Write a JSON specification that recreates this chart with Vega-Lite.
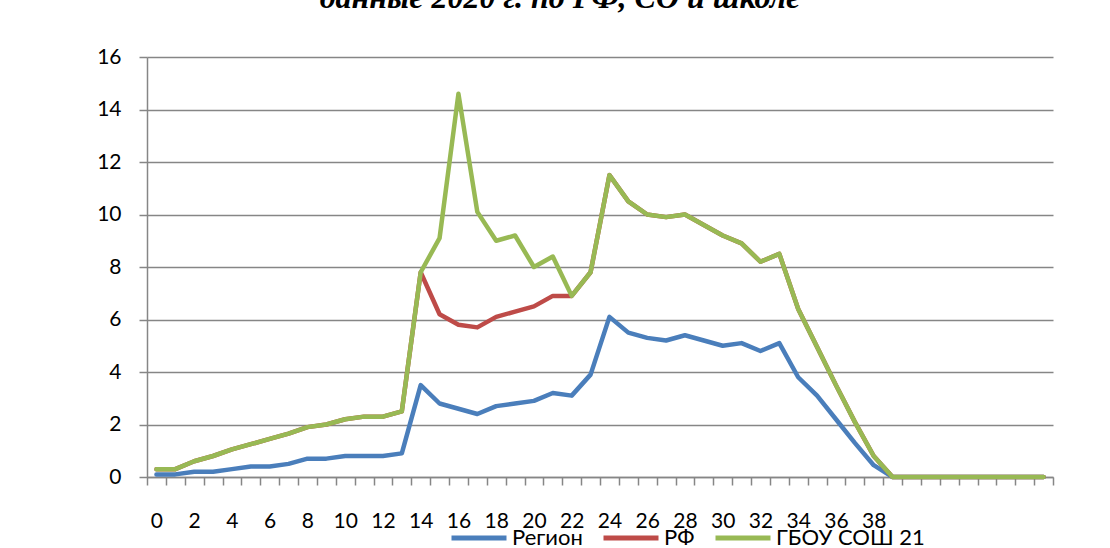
{
  "$schema": "https://vega.github.io/schema/vega-lite/v6.json",
  "width": 906,
  "height": 420,
  "autosize": {"type": "none"},
  "padding": {"left": 147, "top": 57, "right": 57, "bottom": 71},
  "background": "white",
  "title": {
    "text": "данные 2020 г. по РФ, СО и школе",
    "font": "Liberation Serif",
    "fontSize": 32,
    "fontWeight": "bold",
    "fontStyle": "italic",
    "color": "black",
    "anchor": "middle",
    "offset": 31,
    "dx": -40
  },
  "datasets": {
    "rows": [
      {"x": 0, "v": 0.1, "s": "Регион"}, {"x": 1, "v": 0.1, "s": "Регион"}, {"x": 2, "v": 0.2, "s": "Регион"}, {"x": 3, "v": 0.2, "s": "Регион"},
      {"x": 4, "v": 0.3, "s": "Регион"}, {"x": 5, "v": 0.4, "s": "Регион"}, {"x": 6, "v": 0.4, "s": "Регион"}, {"x": 7, "v": 0.5, "s": "Регион"},
      {"x": 8, "v": 0.7, "s": "Регион"}, {"x": 9, "v": 0.7, "s": "Регион"}, {"x": 10, "v": 0.8, "s": "Регион"}, {"x": 11, "v": 0.8, "s": "Регион"},
      {"x": 12, "v": 0.8, "s": "Регион"}, {"x": 13, "v": 0.9, "s": "Регион"}, {"x": 14, "v": 3.5, "s": "Регион"}, {"x": 15, "v": 2.8, "s": "Регион"},
      {"x": 16, "v": 2.6, "s": "Регион"}, {"x": 17, "v": 2.4, "s": "Регион"}, {"x": 18, "v": 2.7, "s": "Регион"}, {"x": 19, "v": 2.8, "s": "Регион"},
      {"x": 20, "v": 2.9, "s": "Регион"}, {"x": 21, "v": 3.2, "s": "Регион"}, {"x": 22, "v": 3.1, "s": "Регион"}, {"x": 23, "v": 3.9, "s": "Регион"},
      {"x": 24, "v": 6.1, "s": "Регион"}, {"x": 25, "v": 5.5, "s": "Регион"}, {"x": 26, "v": 5.3, "s": "Регион"}, {"x": 27, "v": 5.2, "s": "Регион"},
      {"x": 28, "v": 5.4, "s": "Регион"}, {"x": 29, "v": 5.2, "s": "Регион"}, {"x": 30, "v": 5.0, "s": "Регион"}, {"x": 31, "v": 5.1, "s": "Регион"},
      {"x": 32, "v": 4.8, "s": "Регион"}, {"x": 33, "v": 5.1, "s": "Регион"}, {"x": 34, "v": 3.8, "s": "Регион"}, {"x": 35, "v": 3.1, "s": "Регион"},
      {"x": 36, "v": 2.2, "s": "Регион"}, {"x": 37, "v": 1.3, "s": "Регион"}, {"x": 38, "v": 0.45, "s": "Регион"}, {"x": 39, "v": 0, "s": "Регион"},
      {"x": 40, "v": 0, "s": "Регион"}, {"x": 41, "v": 0, "s": "Регион"}, {"x": 42, "v": 0, "s": "Регион"}, {"x": 43, "v": 0, "s": "Регион"},
      {"x": 44, "v": 0, "s": "Регион"}, {"x": 45, "v": 0, "s": "Регион"}, {"x": 46, "v": 0, "s": "Регион"}, {"x": 47, "v": 0, "s": "Регион"},

      {"x": 0, "v": 0.3, "s": "РФ"}, {"x": 1, "v": 0.3, "s": "РФ"}, {"x": 2, "v": 0.6, "s": "РФ"}, {"x": 3, "v": 0.8, "s": "РФ"},
      {"x": 4, "v": 1.05, "s": "РФ"}, {"x": 5, "v": 1.25, "s": "РФ"}, {"x": 6, "v": 1.45, "s": "РФ"}, {"x": 7, "v": 1.65, "s": "РФ"},
      {"x": 8, "v": 1.9, "s": "РФ"}, {"x": 9, "v": 2.0, "s": "РФ"}, {"x": 10, "v": 2.2, "s": "РФ"}, {"x": 11, "v": 2.3, "s": "РФ"},
      {"x": 12, "v": 2.3, "s": "РФ"}, {"x": 13, "v": 2.5, "s": "РФ"}, {"x": 14, "v": 7.8, "s": "РФ"}, {"x": 15, "v": 6.2, "s": "РФ"},
      {"x": 16, "v": 5.8, "s": "РФ"}, {"x": 17, "v": 5.7, "s": "РФ"}, {"x": 18, "v": 6.1, "s": "РФ"}, {"x": 19, "v": 6.3, "s": "РФ"},
      {"x": 20, "v": 6.5, "s": "РФ"}, {"x": 21, "v": 6.9, "s": "РФ"}, {"x": 22, "v": 6.9, "s": "РФ"}, {"x": 23, "v": 7.8, "s": "РФ"},
      {"x": 24, "v": 11.5, "s": "РФ"}, {"x": 25, "v": 10.5, "s": "РФ"}, {"x": 26, "v": 10.0, "s": "РФ"}, {"x": 27, "v": 9.9, "s": "РФ"},
      {"x": 28, "v": 10.0, "s": "РФ"}, {"x": 29, "v": 9.6, "s": "РФ"}, {"x": 30, "v": 9.2, "s": "РФ"}, {"x": 31, "v": 8.9, "s": "РФ"},
      {"x": 32, "v": 8.2, "s": "РФ"}, {"x": 33, "v": 8.5, "s": "РФ"}, {"x": 34, "v": 6.4, "s": "РФ"}, {"x": 35, "v": 4.95, "s": "РФ"},
      {"x": 36, "v": 3.5, "s": "РФ"}, {"x": 37, "v": 2.1, "s": "РФ"}, {"x": 38, "v": 0.8, "s": "РФ"}, {"x": 39, "v": 0, "s": "РФ"},
      {"x": 40, "v": 0, "s": "РФ"}, {"x": 41, "v": 0, "s": "РФ"}, {"x": 42, "v": 0, "s": "РФ"}, {"x": 43, "v": 0, "s": "РФ"},
      {"x": 44, "v": 0, "s": "РФ"}, {"x": 45, "v": 0, "s": "РФ"}, {"x": 46, "v": 0, "s": "РФ"}, {"x": 47, "v": 0, "s": "РФ"},

      {"x": 0, "v": 0.3, "s": "ГБОУ СОШ 21"}, {"x": 1, "v": 0.3, "s": "ГБОУ СОШ 21"}, {"x": 2, "v": 0.6, "s": "ГБОУ СОШ 21"}, {"x": 3, "v": 0.8, "s": "ГБОУ СОШ 21"},
      {"x": 4, "v": 1.05, "s": "ГБОУ СОШ 21"}, {"x": 5, "v": 1.25, "s": "ГБОУ СОШ 21"}, {"x": 6, "v": 1.45, "s": "ГБОУ СОШ 21"}, {"x": 7, "v": 1.65, "s": "ГБОУ СОШ 21"},
      {"x": 8, "v": 1.9, "s": "ГБОУ СОШ 21"}, {"x": 9, "v": 2.0, "s": "ГБОУ СОШ 21"}, {"x": 10, "v": 2.2, "s": "ГБОУ СОШ 21"}, {"x": 11, "v": 2.3, "s": "ГБОУ СОШ 21"},
      {"x": 12, "v": 2.3, "s": "ГБОУ СОШ 21"}, {"x": 13, "v": 2.5, "s": "ГБОУ СОШ 21"}, {"x": 14, "v": 7.8, "s": "ГБОУ СОШ 21"}, {"x": 15, "v": 9.1, "s": "ГБОУ СОШ 21"},
      {"x": 16, "v": 14.6, "s": "ГБОУ СОШ 21"}, {"x": 17, "v": 10.1, "s": "ГБОУ СОШ 21"}, {"x": 18, "v": 9.0, "s": "ГБОУ СОШ 21"}, {"x": 19, "v": 9.2, "s": "ГБОУ СОШ 21"},
      {"x": 20, "v": 8.0, "s": "ГБОУ СОШ 21"}, {"x": 21, "v": 8.4, "s": "ГБОУ СОШ 21"}, {"x": 22, "v": 6.9, "s": "ГБОУ СОШ 21"}, {"x": 23, "v": 7.8, "s": "ГБОУ СОШ 21"},
      {"x": 24, "v": 11.5, "s": "ГБОУ СОШ 21"}, {"x": 25, "v": 10.5, "s": "ГБОУ СОШ 21"}, {"x": 26, "v": 10.0, "s": "ГБОУ СОШ 21"}, {"x": 27, "v": 9.9, "s": "ГБОУ СОШ 21"},
      {"x": 28, "v": 10.0, "s": "ГБОУ СОШ 21"}, {"x": 29, "v": 9.6, "s": "ГБОУ СОШ 21"}, {"x": 30, "v": 9.2, "s": "ГБОУ СОШ 21"}, {"x": 31, "v": 8.9, "s": "ГБОУ СОШ 21"},
      {"x": 32, "v": 8.2, "s": "ГБОУ СОШ 21"}, {"x": 33, "v": 8.5, "s": "ГБОУ СОШ 21"}, {"x": 34, "v": 6.4, "s": "ГБОУ СОШ 21"}, {"x": 35, "v": 4.95, "s": "ГБОУ СОШ 21"},
      {"x": 36, "v": 3.5, "s": "ГБОУ СОШ 21"}, {"x": 37, "v": 2.1, "s": "ГБОУ СОШ 21"}, {"x": 38, "v": 0.8, "s": "ГБОУ СОШ 21"}, {"x": 39, "v": 0, "s": "ГБОУ СОШ 21"},
      {"x": 40, "v": 0, "s": "ГБОУ СОШ 21"}, {"x": 41, "v": 0, "s": "ГБОУ СОШ 21"}, {"x": 42, "v": 0, "s": "ГБОУ СОШ 21"}, {"x": 43, "v": 0, "s": "ГБОУ СОШ 21"},
      {"x": 44, "v": 0, "s": "ГБОУ СОШ 21"}, {"x": 45, "v": 0, "s": "ГБОУ СОШ 21"}, {"x": 46, "v": 0, "s": "ГБОУ СОШ 21"}, {"x": 47, "v": 0, "s": "ГБОУ СОШ 21"}
    ]
  },
  "data": {"name": "rows"},
  "encoding": {
    "x": {
      "field": "x",
      "type": "quantitative",
      "scale": {"domain": [-0.5, 47.5], "nice": false, "zero": false},
      "axis": {
        "title": null,
        "grid": false,
        "values": [-0.5, 0, 0.5, 1.5, 2, 2.5, 3.5, 4, 4.5, 5.5, 6, 6.5, 7.5, 8, 8.5, 9.5, 10, 10.5, 11.5, 12, 12.5, 13.5, 14, 14.5, 15.5, 16, 16.5, 17.5, 18, 18.5, 19.5, 20, 20.5, 21.5, 22, 22.5, 23.5, 24, 24.5, 25.5, 26, 26.5, 27.5, 28, 28.5, 29.5, 30, 30.5, 31.5, 32, 32.5, 33.5, 34, 34.5, 35.5, 36, 36.5, 37.5, 38, 38.5, 39.5, 40.5, 41.5, 42.5, 43.5, 44.5, 45.5, 46.5, 47.5],
        "labelExpr": "datum.value % 1 === 0 ? format(datum.value, 'd') : ''",
        "tickOpacity": {"condition": {"test": "datum.value % 1 === 0", "value": 0}, "value": 1},
        "labelOverlap": false,
        "labelFlush": false,
        "labelBound": false,
        "tickSize": 8,
        "tickColor": "#868686",
        "tickWidth": 1.5,
        "domainColor": "#868686",
        "domainWidth": 1.5,
        "labelPadding": 25,
        "labelFont": "Lato, Noto Sans",
        "labelFontSize": 21,
        "labelColor": "black"
      }
    },
    "y": {
      "field": "v",
      "type": "quantitative",
      "scale": {"domain": [0, 16], "nice": false},
      "axis": {
        "title": null,
        "values": [0, 2, 4, 6, 8, 10, 12, 14, 16],
        "grid": true,
        "gridColor": "#868686",
        "gridWidth": 1.5,
        "tickSize": 8,
        "tickColor": "#868686",
        "tickWidth": 1.5,
        "domainColor": "#868686",
        "domainWidth": 1.5,
        "labelPadding": 18,
        "labelFont": "Lato, Noto Sans",
        "labelFontSize": 21,
        "labelColor": "black"
      }
    },
    "color": {
      "field": "s",
      "type": "nominal",
      "scale": {"domain": ["Регион", "РФ", "ГБОУ СОШ 21"], "range": ["#4A7EBB", "#BE4B48", "#98B954"]},
      "legend": {
        "title": null,
        "orient": "none",
        "direction": "horizontal",
        "columns": 3,
        "legendX": 302,
        "legendY": 451,
        "symbolType": "stroke",
        "symbolSize": 3025,
        "symbolStrokeWidth": 5,
        "labelFont": "Lato, Noto Sans",
        "labelFontSize": 22,
        "labelColor": "black",
        "labelOffset": 3,
        "columnPadding": 10,
        "labelLimit": 300
      }
    }
  },
  "layer": [
    {"transform": [{"filter": "datum.s === 'Регион'"}], "mark": {"type": "line", "strokeWidth": 4.5, "strokeJoin": "round", "strokeCap": "round"}},
    {"transform": [{"filter": "datum.s === 'РФ'"}], "mark": {"type": "line", "strokeWidth": 4.5, "strokeJoin": "round", "strokeCap": "round"}},
    {"transform": [{"filter": "datum.s === 'ГБОУ СОШ 21'"}], "mark": {"type": "line", "strokeWidth": 4.5, "strokeJoin": "round", "strokeCap": "round"}}
  ],
  "config": {"view": {"stroke": null}}
}
